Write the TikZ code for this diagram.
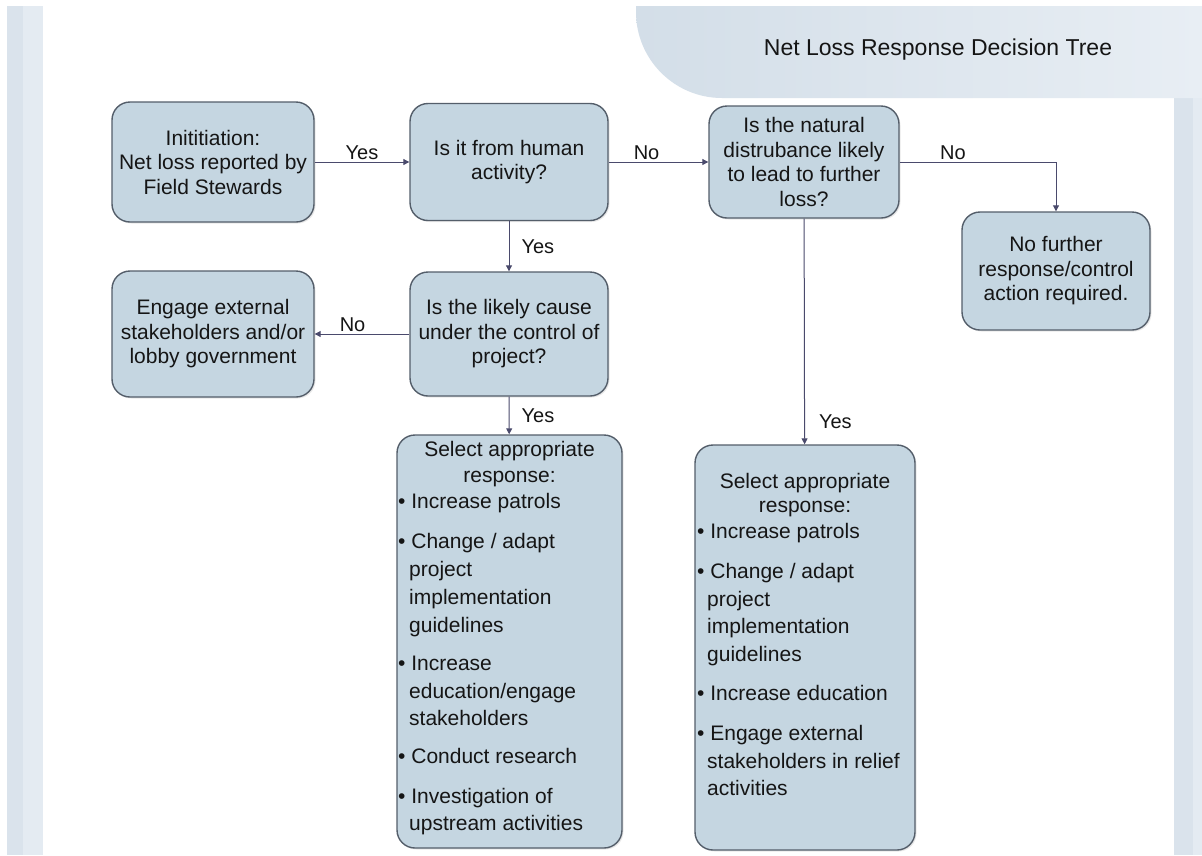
\documentclass[tikz,border=0pt]{standalone}
\usepackage{fontspec}
\setmainfont{Liberation Sans}
\usetikzlibrary{arrows.meta,shadows}
\definecolor{boxfill}{HTML}{C5D6E1}
\definecolor{boxline}{HTML}{545E6A}
\definecolor{arrowc}{HTML}{4A4A6C}
\definecolor{stripA}{HTML}{DAE3EC}
\definecolor{stripB}{HTML}{E4EBF2}
\definecolor{tabL}{HTML}{D3DEE8}
\definecolor{tabR}{HTML}{E8EEF4}
\definecolor{ink}{HTML}{151515}
\begin{document}
\begin{tikzpicture}[x=1pt,y=-1pt,
  box/.style={draw=boxline, line width=1.4pt, fill=boxfill, rounded corners=18pt,
    drop shadow={opacity=0.18, shadow xshift=1.5pt, shadow yshift=-1.5pt},
    inner sep=0pt, align=center, text=ink, font=\fontsize{21}{24.5}\selectfont},
  txt/.style={text=ink, font=\fontsize{21}{24.5}\selectfont, inner sep=0pt},
  ctr/.style={txt, anchor=base},
  itm/.style={txt, anchor=base west},
  lab/.style={text=ink, font=\fontsize{20}{24}\selectfont, inner sep=2pt},
  conn/.style={draw=arrowc, line width=1pt, -{Triangle[length=6pt,width=6pt]}}]

% page and side strips
\useasboundingbox (0,0) rectangle (1202,855);
\fill[white] (0,0) rectangle (1202,855);
\fill[stripA] (7,6) rectangle (23,855);
\fill[stripB] (23,6) rectangle (43,855);
\fill[stripA] (1174,98) rectangle (1193,855);
\fill[stripB] (1193,98) rectangle (1202,855);

% title tab
\shade[left color=tabL, right color=tabR]
  (636,6) -- (1202,6) -- (1202,98) -- (722,98)
  .. controls (674.5,98) and (636,59.5) .. (636,12) -- cycle;
\node[text=ink, font=\fontsize{23}{27}\selectfont] (title) at (938,50)
  {Net Loss Response Decision Tree};

% decision boxes
\node[box, minimum width=202pt, minimum height=120pt] (init) at (213,162)
  {Inititiation:\\Net loss reported by\\Field Stewards};
\node[box, minimum width=198pt, minimum height=117pt] (human) at (509,162)
  {Is it from human\\activity?};
\node[box, minimum width=190pt, minimum height=112pt] (natural) at (804,162)
  {Is the natural\\distrubance likely\\to lead to further\\loss?};
\node[box, minimum width=188pt, minimum height=118pt] (nofurther) at (1056,271)
  {No further\\response/control\\action required.};
\node[box, minimum width=198pt, minimum height=124pt] (control) at (509,334)
  {Is the likely cause\\under the control of\\project?};
\node[box, minimum width=202pt, minimum height=126pt] (engage) at (213,334)
  {Engage external\\stakeholders and/or\\lobby government};
\node[box, minimum width=225pt, minimum height=413pt] (selA) at (509.5,641.5) {};
\node[box, minimum width=220pt, minimum height=405pt] (selB) at (805,647.5) {};

% response list, human-caused branch
\node[ctr] (a1) at (509.5,456) {Select appropriate};
\node[ctr] (a2) at (509.5,482) {response:};
\node[itm] (a3) at (398,508) {\textbullet\ Increase patrols};
\node[itm] (a4) at (398,548) {\textbullet\ Change / adapt};
\node[itm] (a5) at (409,576) {project};
\node[itm] (a6) at (409,604) {implementation};
\node[itm] (a7) at (409,632) {guidelines};
\node[itm] (a8) at (398,670) {\textbullet\ Increase};
\node[itm] (a9) at (409,698) {education/engage};
\node[itm] (a10) at (409,725) {stakeholders};
\node[itm] (a11) at (398,763) {\textbullet\ Conduct research};
\node[itm] (a12) at (398,803) {\textbullet\ Investigation of};
\node[itm] (a13) at (409,830) {upstream activities};

% response list, natural disturbance branch
\node[ctr] (b1) at (805,488) {Select appropriate};
\node[ctr] (b2) at (805,512) {response:};
\node[itm] (b3) at (697,538) {\textbullet\ Increase patrols};
\node[itm] (b4) at (697,578) {\textbullet\ Change / adapt};
\node[itm] (b5) at (707,606) {project};
\node[itm] (b6) at (707,633) {implementation};
\node[itm] (b7) at (707,661) {guidelines};
\node[itm] (b8) at (697,700) {\textbullet\ Increase education};
\node[itm] (b9) at (697,740) {\textbullet\ Engage external};
\node[itm] (b10) at (707,768) {stakeholders in relief};
\node[itm] (b11) at (707,795) {activities};

% connectors
\draw[conn] (init) -- node[lab, above] (l1) {Yes} (human);
\draw[conn] (human) -- node[lab, above, pos=0.38] (l2) {No} (natural);
\draw[conn] (natural.east) -| node[lab, above, pos=0.17] (l3) {No} (nofurther.north);
\draw[conn] (human) -- node[lab, right, xshift=10pt] (l4) {Yes} (control);
\draw[conn] (control) -- node[lab, above, pos=0.6] (l5) {No} (engage);
\draw[conn] (control) -- node[lab, right, xshift=10pt] (l6) {Yes} (selA);
\draw[conn] (natural) -- node[lab, right, xshift=12pt, pos=0.9] (l7) {Yes} (selB);
\end{tikzpicture}
\end{document}
